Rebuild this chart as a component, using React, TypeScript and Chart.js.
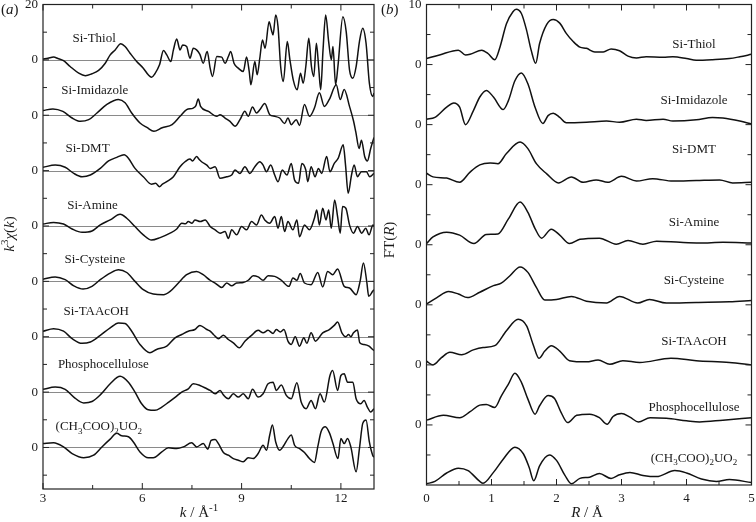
import React, { useEffect, useRef } from "react";
import { Chart, registerables } from "chart.js";

Chart.register(...registerables);

type Pair = [number, number];
type Seg = { t: string; it?: boolean; sub?: boolean; sup?: boolean };

const FAMILY = '"Liberation Serif", "Times New Roman", "DejaVu Serif", serif';

// ---------------- Panel (a): k^3 chi(k), [k (1/Å), value] ----------------
const exafsNames = [
  "Si-Thiol",
  "Si-Imidazole",
  "Si-DMT",
  "Si-Amine",
  "Si-Cysteine",
  "Si-TAAcOH",
  "Phosphocellulose",
  "(CH3COO)2UO2",
];
const exafsOffsets = [0, -20, -40, -60, -80, -100, -120, -140];

const kSiThiol: Pair[] = [
  [3.0, 0.3], [3.15, 0.6], [3.32, 1.0], [3.45, 0.5], [3.62, -0.3], [3.82, -2.4], [4.08, -4.8], [4.28, -5.7],
  [4.48, -5.0], [4.68, -3.8], [4.88, -1.2], [5.03, 1.8], [5.18, 3.6], [5.35, 5.8], [5.48, 4.8], [5.63, 2.4],
  [5.83, -0.6], [6.03, -3.0], [6.18, -5.4], [6.28, -6.3], [6.38, -5.0], [6.52, -1.8], [6.64, 3.4], [6.74, 1.8],
  [6.86, -0.6], [6.94, 3.6], [7.04, 7.5], [7.14, 3.6], [7.22, 5.4], [7.34, 4.8], [7.44, 0.6], [7.54, 4.2],
  [7.64, 3.6], [7.74, 2.0], [7.84, -1.2], [7.96, 3.0], [8.05, -3.0], [8.12, -6.0], [8.25, 1.2], [8.4, 1.0],
  [8.5, -1.2], [8.6, 1.2], [8.67, 3.0], [8.77, -1.2], [8.9, -3.0], [9.05, -4.2], [9.15, 1.0], [9.23, -4.2],
  [9.28, -9.0], [9.4, -0.6], [9.47, -5.4], [9.55, 0.6], [9.63, 7.2], [9.71, 4.2], [9.83, 13.8], [9.9, 10.8],
  [9.95, 9.0], [10.03, 16.2], [10.1, 12.0], [10.18, -2.4], [10.26, -7.8], [10.38, 6.6], [10.46, 0.0],
  [10.56, -7.2], [10.68, -10.8], [10.78, -4.8], [10.86, -8.4], [10.94, -2.4], [11.03, 7.8], [11.11, -2.4],
  [11.18, -6.0], [11.26, 6.0], [11.33, -3.0], [11.39, -10.8], [11.46, 3.6], [11.54, 16.2], [11.63, 6.6],
  [11.71, 0.0], [11.76, 4.8], [11.84, -9.0], [11.91, -2.4], [12.06, 15.6], [12.16, 10.2], [12.26, -3.6],
  [12.36, -6.6], [12.46, -2.4], [12.56, 6.6], [12.66, 11.4], [12.76, 6.0], [12.86, -8.4], [12.96, -13.2],
  [13.0, -12.0],
];
const kSiImidazole: Pair[] = [
  [3.0, 1.7], [3.3, 2.3], [3.6, 1.4], [3.88, -1.0], [4.13, -2.2], [4.38, -1.6], [4.63, 0.8], [4.93, 3.9],
  [5.28, 5.7], [5.48, 4.5], [5.68, 0.8], [5.93, -2.8], [6.15, -4.5], [6.35, -5.8], [6.6, -4.5], [6.9, -3.4],
  [7.14, -0.4], [7.34, 2.0], [7.54, 2.6], [7.62, 3.5], [7.69, 5.9], [7.76, 3.2], [8.0, 1.4], [8.25, -0.4],
  [8.35, 0.2], [8.5, -1.0], [8.65, -2.2], [8.8, -4.0], [8.95, -1.6], [9.1, 1.4], [9.2, -0.4], [9.33, 3.0],
  [9.45, 0.8], [9.55, 2.0], [9.7, 4.2], [9.85, 0.2], [10.0, -0.4], [10.15, -1.0], [10.3, -3.0], [10.4, -1.0],
  [10.5, -3.4], [10.65, -1.6], [10.75, -3.7], [10.9, 3.9], [11.05, -0.4], [11.2, 2.6], [11.35, 8.1],
  [11.5, 3.2], [11.65, 5.7], [11.86, 11.0], [11.98, 5.7], [12.1, 9.3], [12.26, 3.2], [12.38, -2.0],
  [12.45, -6.0], [12.55, -12.0], [12.62, -9.0], [12.72, -15.0], [12.8, -16.5], [12.9, -12.0], [13.0, -8.0],
];
const kSiDMT: Pair[] = [
  [3.0, 1.2], [3.37, 2.0], [3.67, 1.2], [3.93, -1.0], [4.18, -2.2], [4.43, -1.6], [4.73, 0.8], [4.98, 3.5],
  [5.23, 4.8], [5.45, 5.7], [5.58, 4.5], [5.78, 0.8], [6.03, -2.2], [6.28, -4.9], [6.4, -4.6], [6.52, -5.8],
  [6.6, -5.0], [6.74, -4.0], [6.94, -2.2], [7.14, 1.4], [7.29, 3.2], [7.44, 4.2], [7.52, 3.5], [7.64, 5.1],
  [7.72, 4.0], [7.79, 3.2], [7.95, 2.0], [8.05, 0.8], [8.2, 1.4], [8.35, -2.8], [8.55, -2.2], [8.7, -1.6],
  [8.8, 0.2], [8.95, -1.0], [9.1, 1.4], [9.25, -1.0], [9.4, 1.4], [9.55, 3.2], [9.65, 2.0], [9.75, -0.4],
  [9.88, 2.0], [10.0, -1.6], [10.1, -4.0], [10.23, 0.2], [10.37, -1.6], [10.5, 2.6], [10.6, -3.4],
  [10.72, -4.6], [10.82, 2.6], [10.94, 0.2], [11.0, -4.0], [11.1, 1.4], [11.22, -2.2], [11.32, 0.8],
  [11.42, -1.0], [11.57, 5.1], [11.67, -0.4], [11.8, 2.6], [11.92, 4.5], [12.07, 9.3], [12.14, 2.0],
  [12.22, -8.2], [12.32, -1.6], [12.4, 2.0], [12.5, -2.2], [12.62, -0.4], [12.77, -0.4], [12.87, -2.2],
  [13.0, -1.0],
];
const kSiAmine: Pair[] = [
  [3.0, 0.7], [3.32, 1.3], [3.62, 0.7], [3.88, -1.1], [4.18, -2.3], [4.48, -1.8], [4.73, 0.4], [5.03, 2.2],
  [5.33, 4.2], [5.53, 2.8], [5.78, -0.2], [6.03, -3.2], [6.28, -5.1], [6.54, -4.2], [6.84, -2.6],
  [7.04, -1.1], [7.19, 1.0], [7.3, 0.8], [7.39, 1.6], [7.5, 1.0], [7.59, 2.2], [7.75, 1.6], [7.9, 2.2],
  [8.05, -0.2], [8.2, -1.4], [8.35, -2.6], [8.5, -2.0], [8.6, -4.5], [8.7, -1.4], [8.85, -3.2], [9.0, -0.2],
  [9.15, -1.4], [9.3, 1.6], [9.45, 0.4], [9.6, 4.0], [9.7, 2.2], [9.85, 1.0], [10.0, 3.4], [10.1, -0.8],
  [10.2, 3.4], [10.3, -2.0], [10.4, 1.6], [10.55, -1.4], [10.67, 2.2], [10.75, -3.9], [10.9, 0.4],
  [11.05, -1.4], [11.2, 2.8], [11.27, 5.8], [11.35, 0.4], [11.45, 6.4], [11.55, 2.2], [11.63, 5.8],
  [11.71, -0.8], [11.81, 9.4], [11.9, 3.4], [11.98, -2.6], [12.05, 7.0], [12.15, 6.4], [12.26, 0.4],
  [12.38, -2.6], [12.5, -0.2], [12.63, -2.6], [12.75, -0.8], [12.85, -3.2], [12.97, 0.4], [13.0, 0.0],
];
const kSiCysteine: Pair[] = [
  [3.0, 0.8], [3.37, 1.6], [3.67, 0.6], [3.93, -1.6], [4.21, -2.8], [4.48, -1.8], [4.73, 0.6], [5.03, 3.0],
  [5.28, 4.2], [5.53, 3.2], [5.78, 0.0], [6.03, -3.0], [6.33, -4.6], [6.64, -4.8], [6.84, -3.6],
  [7.09, -0.6], [7.34, 2.4], [7.64, 3.6], [7.84, 2.4], [8.05, 0.4], [8.2, -0.6], [8.4, -2.2], [8.55, -0.6],
  [8.7, -1.6], [8.85, -0.6], [9.05, -0.4], [9.2, 0.4], [9.35, 2.0], [9.5, 1.6], [9.65, 0.4], [9.8, 2.0],
  [10.0, 1.8], [10.2, 0.4], [10.43, -1.8], [10.55, 1.2], [10.67, 0.4], [10.77, 2.8], [10.9, -0.6],
  [11.1, -1.2], [11.3, 3.2], [11.45, -2.0], [11.6, 3.6], [11.75, 2.4], [11.9, 4.5], [12.1, -1.8],
  [12.26, -2.4], [12.46, -4.8], [12.58, 0.0], [12.68, 6.6], [12.78, 0.0], [12.84, -5.4], [12.96, -3.6],
  [13.0, -3.0],
];
const kSiTAAcOH: Pair[] = [
  [3.0, 2.0], [3.32, 2.9], [3.62, 2.0], [3.88, -0.7], [4.18, -2.4], [4.43, -1.9], [4.73, 0.5], [5.03, 3.2],
  [5.28, 5.0], [5.48, 4.8], [5.68, 2.0], [5.93, -2.8], [6.23, -5.8], [6.43, -4.6], [6.74, -3.4],
  [6.99, -0.4], [7.19, 0.8], [7.39, 2.0], [7.59, 2.6], [7.74, 4.1], [7.95, 2.6], [8.05, 2.0], [8.15, 0.8],
  [8.3, -0.7], [8.45, 0.5], [8.6, -1.0], [8.75, -2.2], [8.93, -4.0], [9.1, -1.6], [9.3, 0.5], [9.5, 2.3],
  [9.65, 1.4], [9.8, 2.3], [9.95, 1.2], [10.05, 2.6], [10.17, 1.7], [10.28, 2.6], [10.4, -1.6],
  [10.5, -2.8], [10.62, 0.0], [10.75, -3.4], [10.88, -0.4], [10.97, -2.4], [11.1, 1.4], [11.23, -1.6],
  [11.45, 1.4], [11.65, 2.6], [11.8, 4.1], [11.9, 5.3], [12.03, 1.4], [12.15, 0.0], [12.23, 0.8],
  [12.3, 0.0], [12.38, 1.4], [12.5, 2.4], [12.57, -2.2], [12.7, -2.8], [12.85, -3.4], [12.96, -4.6],
  [13.0, -5.0],
];
const kPhosphocellulose: Pair[] = [
  [3.0, 1.0], [3.37, 1.8], [3.67, 1.0], [3.93, -1.8], [4.23, -3.9], [4.48, -3.4], [4.73, -1.0], [5.03, 3.0],
  [5.33, 5.7], [5.58, 3.6], [5.78, 0.0], [5.98, -4.2], [6.18, -6.4], [6.38, -6.6], [6.59, -5.4],
  [6.8, -3.6], [7.0, -1.8], [7.19, 0.0], [7.39, 1.2], [7.54, 3.0], [7.74, 2.4], [7.95, 1.2], [8.05, 0.6],
  [8.2, -0.6], [8.35, 0.6], [8.45, -1.0], [8.6, -2.4], [8.75, -0.6], [8.9, -1.8], [9.05, -0.6],
  [9.2, -2.4], [9.33, 1.0], [9.5, -1.8], [9.65, -0.6], [9.8, 3.0], [9.95, 3.6], [10.05, 0.6], [10.2, 2.6],
  [10.35, -1.2], [10.5, -2.4], [10.67, 3.4], [10.8, -3.6], [10.95, -6.0], [11.1, -3.0], [11.23, -6.0],
  [11.37, -0.6], [11.5, -3.6], [11.67, 6.0], [11.75, 7.8], [11.9, 0.6], [12.0, 6.0], [12.1, 6.6],
  [12.2, 3.6], [12.36, 3.6], [12.46, -2.4], [12.6, -4.2], [12.7, -3.0], [12.8, -5.4], [12.9, -7.2],
  [13.0, -6.0],
];
const kUranylAcetate: Pair[] = [
  [3.0, 1.4], [3.32, 1.7], [3.62, 0.2], [3.88, -2.2], [4.23, -3.7], [4.53, -2.8], [4.78, 0.2], [5.03, 3.0],
  [5.23, 5.1], [5.38, 4.2], [5.58, 3.9], [5.73, 2.0], [5.93, -1.6], [6.18, -3.7], [6.33, -3.7],
  [6.59, -1.6], [6.79, -0.1], [7.04, -0.4], [7.24, 0.2], [7.49, 1.7], [7.64, 0.2], [7.84, 1.4],
  [7.98, -0.6], [8.08, 2.6], [8.2, 2.9], [8.3, 1.4], [8.45, -1.8], [8.6, -2.8], [8.75, -4.0], [8.9, -4.6],
  [9.05, -5.2], [9.2, -3.7], [9.35, -4.0], [9.5, -2.2], [9.65, 0.8], [9.75, -1.0], [9.85, 4.5],
  [9.93, 8.1], [10.03, 2.0], [10.15, -1.0], [10.27, 0.6], [10.4, 3.2], [10.5, 4.5], [10.6, 0.8],
  [10.75, -0.4], [10.9, -1.8], [11.05, -4.0], [11.2, -5.4], [11.3, 0.2], [11.4, 5.7], [11.53, 7.5],
  [11.66, 5.1], [11.76, 1.4], [11.91, -4.0], [12.0, 3.2], [12.1, 1.4], [12.2, 3.2], [12.3, 0.2],
  [12.46, -8.8], [12.56, -0.4], [12.66, 8.7], [12.76, 9.9], [12.86, 2.0], [12.96, -2.8], [13.0, -3.5],
];

const kTickValues = [3, 6, 9, 12];
const kTickLabels = ["3", "6", "9", "12"];
const kMinorTicks = [4.5, 7.5, 10.5];
const chiTickValues = [20, 0, -20, -40, -60, -80, -100, -120, -140];
const chiTickLabels = ["20", "0", "0", "0", "0", "0", "0", "0", "0"];
const chiMinorTicks = [10, -10, -30, -50, -70, -90, -110, -130, -150];
const exafsLabelK = [3.89, 3.55, 3.68, 3.73, 3.65, 3.62, 3.45, 3.38];
const exafsLabelDy = [7.9, 9.3, 8.3, 7.6, 8.2, 9.5, 10.2, 7.7];

// ---------------- Panel (b): FT(R), [R (Å), value] ----------------
const ftOffsets = [0, -10, -20, -30, -40, -50, -60, -70];

const ftSiThiol: Pair[] = [
  [0, 1.0], [0.2, 1.6], [0.49, 2.4], [0.6, 1.6], [0.67, 1.7], [0.85, 2.4], [0.95, 1.8], [1.05, 0.8],
  [1.13, 2.9], [1.23, 6.8], [1.33, 8.8], [1.38, 9.2], [1.46, 8.5], [1.54, 5.7], [1.61, 2.4], [1.68, 0.2],
  [1.74, 3.5], [1.85, 6.7], [1.95, 7.5], [2.05, 6.9], [2.15, 5.2], [2.26, 3.8], [2.36, 2.9], [2.46, 2.7],
  [2.59, 2.1], [2.72, 2.1], [2.84, 2.6], [2.97, 2.3], [3.1, 1.4], [3.23, 1.1], [3.38, 1.3], [3.64, 1.2],
  [3.79, 1.3], [4.0, 1.0], [4.15, 0.7], [4.4, 0.8], [4.66, 1.0], [4.82, 1.3], [5.0, 1.7],
];
const ftSiImidazole: Pair[] = [
  [0, 0.9], [0.13, 1.2], [0.31, 2.9], [0.42, 3.6], [0.51, 2.9], [0.6, 0.0], [0.72, 2.3], [0.82, 4.6],
  [0.92, 5.7], [1.03, 4.6], [1.18, 2.5], [1.26, 4.0], [1.36, 7.3], [1.46, 8.6], [1.56, 6.8], [1.67, 2.9],
  [1.79, 0.2], [1.87, 1.5], [1.95, 1.9], [2.05, 1.2], [2.15, 0.3], [2.46, 0.4], [2.77, 0.6], [2.97, 0.4],
  [3.23, 0.9], [3.38, 0.7], [3.64, 0.9], [3.79, 0.6], [4.15, 0.8], [4.4, 1.2], [4.56, 1.1], [4.82, 0.6],
  [5.0, 0.1],
];
const ftSiDMT: Pair[] = [
  [0, 1.9], [0.1, 1.3], [0.31, 1.1], [0.51, 0.4], [0.67, 2.1], [0.82, 3.3], [0.98, 3.6], [1.1, 3.5],
  [1.23, 5.2], [1.44, 7.1], [1.56, 6.0], [1.69, 3.5], [1.85, 1.8], [2.03, 0.3], [2.23, 1.3], [2.41, 0.4],
  [2.61, 0.8], [2.79, 0.4], [3.0, 1.4], [3.23, 0.6], [3.48, 1.0], [3.79, 0.6], [4.15, 0.7], [4.51, 0.8],
  [4.71, 0.3], [5.0, 0.4],
];
const ftSiAmine: Pair[] = [
  [0, 0.2], [0.1, 1.3], [0.31, 2.1], [0.51, 1.6], [0.73, 0.2], [0.92, 1.7], [1.1, 1.8], [1.26, 4.3],
  [1.44, 7.1], [1.56, 5.4], [1.67, 2.7], [1.77, 1.1], [1.92, 2.6], [2.05, 1.6], [2.2, 0.2], [2.36, 0.9],
  [2.66, 1.1], [2.92, 0.1], [3.1, 0.7], [3.33, 0.1], [3.54, 0.6], [3.9, 0.4], [4.2, 0.3], [4.56, 0.4],
  [5.0, 0.3],
];
const ftSiCysteine: Pair[] = [
  [0, 0.1], [0.16, 1.2], [0.34, 2.2], [0.49, 1.8], [0.63, 1.2], [0.82, 2.1], [1.03, 3.2], [1.15, 3.6],
  [1.28, 4.8], [1.44, 6.3], [1.56, 5.4], [1.69, 2.9], [1.82, 0.8], [2.0, 0.9], [2.23, 1.4], [2.46, 0.6],
  [2.77, 0.3], [2.97, 1.4], [3.25, 0.3], [3.43, 0.9], [3.69, 0.3], [4.15, 0.4], [4.66, 0.5], [5.0, 0.7],
];
const ftSiTAAcOH: Pair[] = [
  [0, 0.6], [0.1, 0.0], [0.23, 1.2], [0.36, 2.1], [0.54, 1.7], [0.72, 2.5], [0.87, 2.9], [1.05, 3.2],
  [1.23, 5.7], [1.41, 7.6], [1.54, 6.5], [1.64, 3.4], [1.73, 1.1], [1.82, 2.3], [1.92, 3.2], [2.05, 2.3],
  [2.2, 0.7], [2.46, 0.5], [2.64, 0.8], [2.82, 0.1], [3.02, 0.7], [3.28, 0.4], [3.76, 1.1], [4.15, 0.7],
  [4.66, 0.4], [5.0, 0.0],
];
const ftPhosphocellulose: Pair[] = [
  [0, 0.8], [0.26, 1.6], [0.51, 1.2], [0.67, 2.2], [0.82, 3.3], [0.92, 3.4], [1.05, 2.9], [1.15, 4.8],
  [1.26, 6.8], [1.36, 8.6], [1.46, 7.1], [1.56, 4.3], [1.67, 1.8], [1.74, 3.2], [1.87, 4.9], [1.97, 4.4],
  [2.07, 2.1], [2.17, 0.4], [2.31, 1.6], [2.51, 1.8], [2.66, 1.2], [2.78, 0.1], [2.87, 1.4], [3.0, 1.9],
  [3.13, 1.3], [3.26, 0.5], [3.44, 1.2], [3.69, 1.1], [4.0, 0.7], [4.2, 0.5], [4.56, 0.8], [5.0, 1.2],
];
const ftUranylAcetate: Pair[] = [
  [0, 0.2], [0.13, 0.6], [0.31, 2.0], [0.49, 2.8], [0.64, 2.4], [0.82, 0.6], [0.87, 0.3], [1.03, 2.1],
  [1.18, 4.3], [1.36, 6.3], [1.49, 5.2], [1.58, 2.9], [1.65, 0.7], [1.74, 3.2], [1.89, 5.0], [2.0, 4.1],
  [2.13, 1.6], [2.23, 0.2], [2.36, 1.1], [2.51, 1.3], [2.66, 1.9], [2.84, 1.1], [2.97, 1.7], [3.13, 2.1],
  [3.33, 1.6], [3.54, 1.4], [3.82, 2.4], [4.0, 2.0], [4.23, 1.0], [4.46, 0.6], [4.66, 0.9], [5.0, 0.4],
];

const rTickValues = [0, 1, 2, 3, 4, 5];
const rTickLabels = ["0", "1", "2", "3", "4", "5"];
const rMinorTicks = [0.5, 1.5, 2.5, 3.5, 4.5];
const ftTickValues = [10, 0, -10, -20, -30, -40, -50, -60];
const ftTickLabels = ["10", "0", "0", "0", "0", "0", "0", "0"];
const ftMinorTicks = [5, -5, -15, -25, -35, -45, -55, -65];
const ftLabelR = 4.115;
const ftLabelDy = [3.5, 4.2, 6.0, 3.8, 4.1, 4.1, 3.05, 4.6];

// ---------------- helpers ----------------
function nameSegs(name: string): Seg[] {
  const out: Seg[] = [];
  for (const ch of name) {
    const sub = /[0-9]/.test(ch);
    const last = out[out.length - 1];
    if (last && !!last.sub === sub) last.t += ch;
    else out.push({ t: ch, sub });
  }
  return out;
}

function drawRich(
  ctx: CanvasRenderingContext2D,
  segs: Seg[],
  x: number,
  y: number,
  size: number,
  align: "left" | "center" | "right"
) {
  const fontFor = (s: Seg) =>
    `${s.it ? "italic " : ""}${s.sub || s.sup ? Math.round(size * 0.7) : size}px ${FAMILY}`;
  let total = 0;
  const widths = segs.map((s) => {
    ctx.font = fontFor(s);
    const w = ctx.measureText(s.t).width;
    total += w;
    return w;
  });
  let cx = align === "left" ? x : align === "center" ? x - total / 2 : x - total;
  ctx.textAlign = "left";
  ctx.textBaseline = "alphabetic";
  segs.forEach((s, i) => {
    ctx.font = fontFor(s);
    const dy = s.sub ? size * 0.25 : s.sup ? -size * 0.4 : 0;
    ctx.fillText(s.t, cx, y + dy);
    cx += widths[i];
  });
}

type Panel = {
  left: number;
  width: number;
  yAxisW: number;
  xAxisH: number;
  xLabelPad: number;
  padTop: number;
  padRight: number;
  xMin: number;
  xMax: number;
  yMin: number;
  yMax: number;
  xTicks: number[];
  xTickLabels: string[];
  xMinor: number[];
  yTicks: number[];
  yTickLabels: string[];
  yMinor: number[];
  series: Pair[][];
  offsets: number[];
  names: string[];
  nameX: number[];
  nameDy: number[];
  nameAlign: "left" | "center";
  baselines: boolean;
  tag: Seg[];
  xTitle: Seg[];
  yTitle: Seg[];
  xTitlePos: [number, number];
  yTitlePos: [number, number];
};

const TXT = "#1a1a1a";

function makePlugin(p: Panel) {
  return {
    id: "panelDecor",
    beforeDatasetsDraw(chart: any) {
      if (!p.baselines) return;
      const { ctx, chartArea: a, scales } = chart;
      ctx.save();
      ctx.strokeStyle = "#8a8a8a";
      ctx.lineWidth = 1;
      p.offsets.forEach((o) => {
        const y = Math.round(scales.y.getPixelForValue(o)) + 0.5;
        ctx.beginPath();
        ctx.moveTo(a.left, y);
        ctx.lineTo(a.right, y);
        ctx.stroke();
      });
      ctx.restore();
    },
    afterDatasetsDraw(chart: any) {
      const { ctx, chartArea: a, scales } = chart;
      ctx.save();
      ctx.strokeStyle = "#222";
      ctx.lineWidth = 1.2;
      ctx.strokeRect(a.left, a.top, a.right - a.left, a.bottom - a.top);
      ctx.lineWidth = 1;
      const tick = (vals: number[], len: number, horiz: boolean) => {
        vals.forEach((v) => {
          if (horiz) {
            const x = scales.x.getPixelForValue(v);
            ctx.beginPath();
            ctx.moveTo(x, a.bottom);
            ctx.lineTo(x, a.bottom - len);
            ctx.moveTo(x, a.top);
            ctx.lineTo(x, a.top + len);
            ctx.stroke();
          } else {
            const y = scales.y.getPixelForValue(v);
            ctx.beginPath();
            ctx.moveTo(a.left, y);
            ctx.lineTo(a.left + len, y);
            ctx.moveTo(a.right, y);
            ctx.lineTo(a.right - len, y);
            ctx.stroke();
          }
        });
      };
      tick(p.xTicks, 6, true);
      tick(p.xMinor, 4, true);
      tick(p.yTicks, 6, false);
      tick(p.yMinor, 4, false);
      ctx.restore();
    },
    afterDraw(chart: any) {
      const { ctx, scales } = chart;
      ctx.save();
      ctx.fillStyle = TXT;
      const size = 13;
      p.names.forEach((n, i) => {
        const x = scales.x.getPixelForValue(p.nameX[i]);
        const yc = scales.y.getPixelForValue(p.offsets[i] + p.nameDy[i]);
        drawRich(ctx, nameSegs(n), x, yc + size * 0.33, size, p.nameAlign);
      });
      drawRich(ctx, p.tag, 1, 14, 15, "left");
      drawRich(ctx, p.xTitle, p.xTitlePos[0], p.xTitlePos[1] + 5, 15, "center");
      ctx.translate(p.yTitlePos[0], p.yTitlePos[1]);
      ctx.rotate(-Math.PI / 2);
      drawRich(ctx, p.yTitle, 0, 5, 15, "center");
      ctx.restore();
    },
  };
}

function buildChart(canvas: HTMLCanvasElement, p: Panel) {
  const datasets = p.series.map((s, i) => ({
    label: p.names[i],
    data: s.map(([x, v]) => ({ x, y: v + p.offsets[i] })),
    borderColor: "#111",
    borderWidth: 1.5,
    pointRadius: 0,
    fill: false,
    cubicInterpolationMode: "monotone" as const,
    tension: 0,
  }));
  const tickFont = { family: FAMILY, size: 13 };
  return new Chart(canvas, {
    type: "line",
    data: { datasets },
    plugins: [makePlugin(p)],
    options: {
      animation: false,
      responsive: false,
      maintainAspectRatio: false,
      events: [],
      layout: { padding: { left: 0, right: p.padRight, top: p.padTop, bottom: 0 } },
      plugins: { legend: { display: false }, tooltip: { enabled: false } },
      scales: {
        x: {
          type: "linear",
          min: p.xMin,
          max: p.xMax,
          grid: { display: false, drawTicks: false },
          border: { display: false },
          ticks: {
            font: tickFont,
            color: TXT,
            padding: p.xLabelPad,
            autoSkip: false,
            maxRotation: 0,
            callback: (v: any) => {
              const i = p.xTicks.indexOf(Number(v));
              return i >= 0 ? p.xTickLabels[i] : "";
            },
          },
          afterBuildTicks: (s: any) => {
            s.ticks = p.xTicks.map((v) => ({ value: v }));
          },
          afterFit: (s: any) => {
            s.height = p.xAxisH;
            s.paddingLeft = 0;
            s.paddingRight = 0;
          },
        },
        y: {
          type: "linear",
          min: p.yMin,
          max: p.yMax,
          grid: { display: false, drawTicks: false },
          border: { display: false },
          ticks: {
            font: tickFont,
            color: TXT,
            padding: 5,
            autoSkip: false,
            callback: (v: any) => {
              const i = p.yTicks.indexOf(Number(v));
              return i >= 0 ? p.yTickLabels[i] : "";
            },
          },
          afterBuildTicks: (s: any) => {
            s.ticks = p.yTicks.map((v) => ({ value: v }));
          },
          afterFit: (s: any) => {
            s.width = p.yAxisW;
            s.paddingTop = 0;
            s.paddingBottom = 0;
          },
        },
      },
    } as any,
  });
}

const panelA: Panel = {
  left: 0,
  width: 380,
  yAxisW: 43,
  xAxisH: 33,
  xLabelPad: 2,
  padTop: 4.5,
  padRight: 6,
  xMin: 3,
  xMax: 13,
  yMin: -155,
  yMax: 20,
  xTicks: kTickValues,
  xTickLabels: kTickLabels,
  xMinor: kMinorTicks,
  yTicks: chiTickValues,
  yTickLabels: chiTickLabels,
  yMinor: chiMinorTicks,
  series: [kSiThiol, kSiImidazole, kSiDMT, kSiAmine, kSiCysteine, kSiTAAcOH, kPhosphocellulose, kUranylAcetate],
  offsets: exafsOffsets,
  names: exafsNames,
  nameX: exafsLabelK,
  nameDy: exafsLabelDy,
  nameAlign: "left",
  baselines: true,
  tag: [{ t: "(" }, { t: "a", it: true }, { t: ")" }],
  xTitle: [{ t: "k", it: true }, { t: " / Å" }, { t: "-1", sup: true }],
  yTitle: [{ t: "k", it: true }, { t: "3", sup: true }, { t: "χ", it: true }, { t: "(" }, { t: "k", it: true }, { t: ")" }],
  xTitlePos: [199, 512],
  yTitlePos: [9, 234],
};

const panelB: Panel = {
  left: 380,
  width: 376,
  yAxisW: 46.5,
  xAxisH: 37,
  xLabelPad: 6,
  padTop: 4.5,
  padRight: 4.5,
  xMin: 0,
  xMax: 5,
  yMin: -70,
  yMax: 10,
  xTicks: rTickValues,
  xTickLabels: rTickLabels,
  xMinor: rMinorTicks,
  yTicks: ftTickValues,
  yTickLabels: ftTickLabels,
  yMinor: ftMinorTicks,
  series: [ftSiThiol, ftSiImidazole, ftSiDMT, ftSiAmine, ftSiCysteine, ftSiTAAcOH, ftPhosphocellulose, ftUranylAcetate],
  offsets: ftOffsets,
  names: exafsNames,
  nameX: exafsNames.map(() => ftLabelR),
  nameDy: ftLabelDy,
  nameAlign: "center",
  baselines: false,
  tag: [{ t: "(" }, { t: "b", it: true }, { t: ")" }],
  xTitle: [{ t: "R", it: true }, { t: " / Å" }],
  yTitle: [{ t: "FT(" }, { t: "R", it: true }, { t: ")" }],
  xTitlePos: [207, 512],
  yTitlePos: [9, 240],
};

export default function App() {
  const refA = useRef<HTMLCanvasElement>(null);
  const refB = useRef<HTMLCanvasElement>(null);

  useEffect(() => {
    const charts: Chart[] = [];
    if (refA.current) charts.push(buildChart(refA.current, panelA));
    if (refB.current) charts.push(buildChart(refB.current, panelB));
    return () => charts.forEach((c) => c.destroy());
  }, []);

  const canvasStyle = (p: Panel): React.CSSProperties => ({
    position: "absolute",
    left: p.left,
    top: 0,
    width: p.width,
    height: 522,
  });

  return (
    <div style={{ position: "absolute", left: 0, top: 0, width: 756, height: 522, background: "#fff" }}>
      <canvas ref={refA} width={panelA.width} height={522} style={canvasStyle(panelA)} />
      <canvas ref={refB} width={panelB.width} height={522} style={canvasStyle(panelB)} />
    </div>
  );
}
